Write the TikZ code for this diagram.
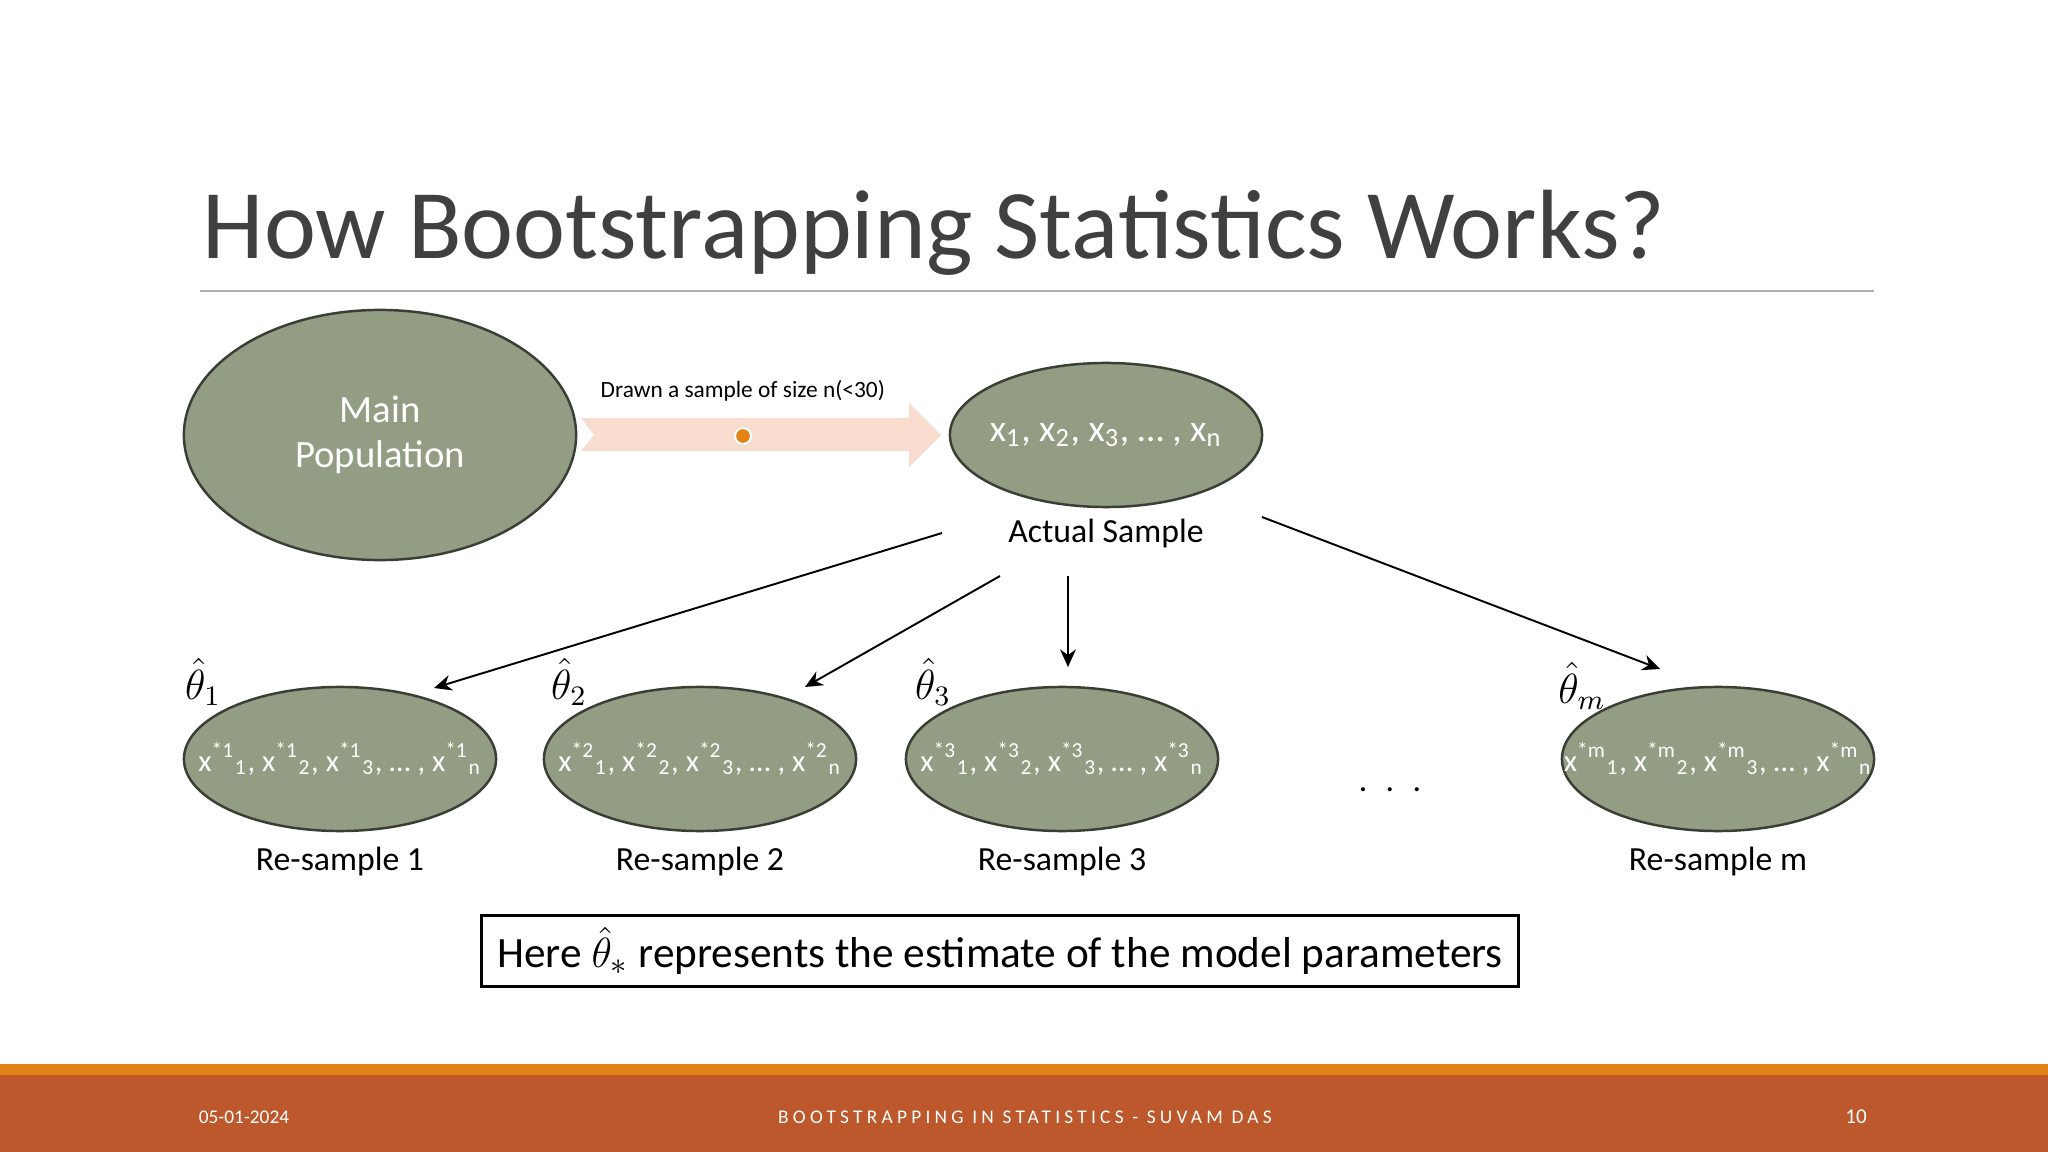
\documentclass[tikz,border=0pt]{standalone}
\usepackage{fontspec}
\setmainfont{Carlito}
\newfontfamily\spacedfont[LetterSpace=22]{Carlito}
\usetikzlibrary{shapes.geometric,arrows.meta}
\definecolor{sage}{RGB}{146,157,131}
\definecolor{rim}{RGB}{58,62,52}
\definecolor{peach}{RGB}{248,220,206}
\definecolor{dotorange}{RGB}{227,131,22}
\definecolor{footred}{RGB}{188,88,44}
\definecolor{titlegray}{RGB}{64,64,64}
\definecolor{rulegray}{RGB}{175,175,175}
\tikzset{sample/.style={ellipse, draw=rim, fill=sage, line width=0.7pt, minimum width=3.12cm, minimum height=1.44cm, inner sep=0pt}}
\tikzset{intext/.style={text=white, font=\fontsize{8.7}{10}\selectfont}}
\tikzset{tag/.style={font=\fontsize{9.6}{11}\selectfont}}
\tikzset{est/.style={font=\fontsize{12}{14}\selectfont}}
\tikzset{conn/.style={-{Stealth[length=5pt,width=4.5pt]}, line width=0.55pt}}
\tikzset{foot/.style={text=white, font=\fontsize{5.5}{6}\selectfont}}
\newcommand\resample[1]{x\textsuperscript{*#1}\textsubscript{1}, x\textsuperscript{*#1}\textsubscript{2}, x\textsuperscript{*#1}\textsubscript{3}, \dots\ , x\textsuperscript{*#1}\textsubscript{n}}

\begin{document}
\begin{tikzpicture}[x=0.01cm,y=-0.01cm]
\useasboundingbox (0,0) rectangle (2048,1152);
% title and rule
\node [anchor=base west, inner sep=0pt, text=titlegray, font=\fontsize{28}{32}\selectfont] (title) at (202,259) {How Bootstrapping Statistics Works?};
\draw [rulegray, line width=0.6pt] (200,291) -- (1874,291);

% population -> actual sample
\node [sample, minimum width=3.92cm, minimum height=2.5cm, align=center, text=white, font=\fontsize{11}{12.8}\selectfont] (pop) at (380,435) {Main\\Population};
\fill [peach] (581,418) -- (909,418) -- (909,403) -- (941,435) -- (909,467) -- (909,451) -- (581,451) -- (594,435) -- cycle;
\node [circle, fill=dotorange, draw=white, line width=0.6pt, minimum size=0.16cm, inner sep=0pt] (dot) at (743,436) {};
\node [anchor=base west, inner sep=0pt, font=\fontsize{6.65}{8}\selectfont] (drawn) at (600,398) {Drawn a sample of size n(<30)};
\node [sample, label={[intext, font=\fontsize{10.7}{12}\selectfont]center:x\textsubscript{1}, x\textsubscript{2}, x\textsubscript{3}, \dots\ , x\textsubscript{n}}] (act) at (1106,435) {};
\node [tag] (actlab) at (1106,534) {Actual Sample};

% re-samples
\node [sample, label={[intext]center:\resample{1}}] (r1) at (340,759) {};
\node [sample, label={[intext]center:\resample{2}}] (r2) at (700,759) {};
\node [sample, label={[intext]center:\resample{3}}] (r3) at (1062,759) {};
\node [sample, label={[intext]center:\resample{m}}] (rm) at (1718,759) {};
\node [est] (t1) at (203,682) {$\hat{\theta}_1$};
\node [est] (t2) at (569,682) {$\hat{\theta}_2$};
\node [est] (t3) at (933,682) {$\hat{\theta}_3$};
\node [est] (tm) at (1582,686) {$\hat{\theta}_m$};
\node [tag] (l1) at (340,861) {Re-sample 1};
\node [tag] (l2) at (700,861) {Re-sample 2};
\node [tag] (l3) at (1062,861) {Re-sample 3};
\node [tag] (lm) at (1718,861) {Re-sample m};
\node [tag] (dots) at (1390,790) {.\hspace{5.2pt}.\hspace{5.2pt}.};

% arrows from the actual sample
\coordinate (a1) at (942,533);
\coordinate (a2) at (1000,576);
\coordinate (a3) at (1068,576);
\coordinate (a4) at (1262,517);
\coordinate (b1) at (434,688);
\coordinate (b2) at (805,687);
\coordinate (b3) at (1068,667);
\coordinate (b4) at (1660,669);
\draw [conn] (a1) -- (b1);
\draw [conn] (a2) -- (b2);
\draw [conn] (a3) -- (b3);
\draw [conn] (a4) -- (b4);

% note
\node [draw, line width=0.7pt, minimum width=10.36cm, minimum height=0.7cm, font=\fontsize{12.3}{15}\selectfont] (note) at (1000,951) {Here $\hat{\theta}_*$ represents the estimate of the model parameters};

% footer
\fill [footred] (0,1075) rectangle (2048,1152);
\fill [dotorange] (0,1064) rectangle (2048,1075);
\node [foot] (date) at (244,1117) {05-01-2024};
\node [foot, font=\spacedfont\fontsize{5.5}{6}\selectfont] (talk) at (1025,1117) {BOOTSTRAPPING IN STATISTICS - SUVAM DAS};
\node [foot, font=\fontsize{6}{7}\selectfont] (page) at (1856,1117) {10};
\end{tikzpicture}
\end{document}
